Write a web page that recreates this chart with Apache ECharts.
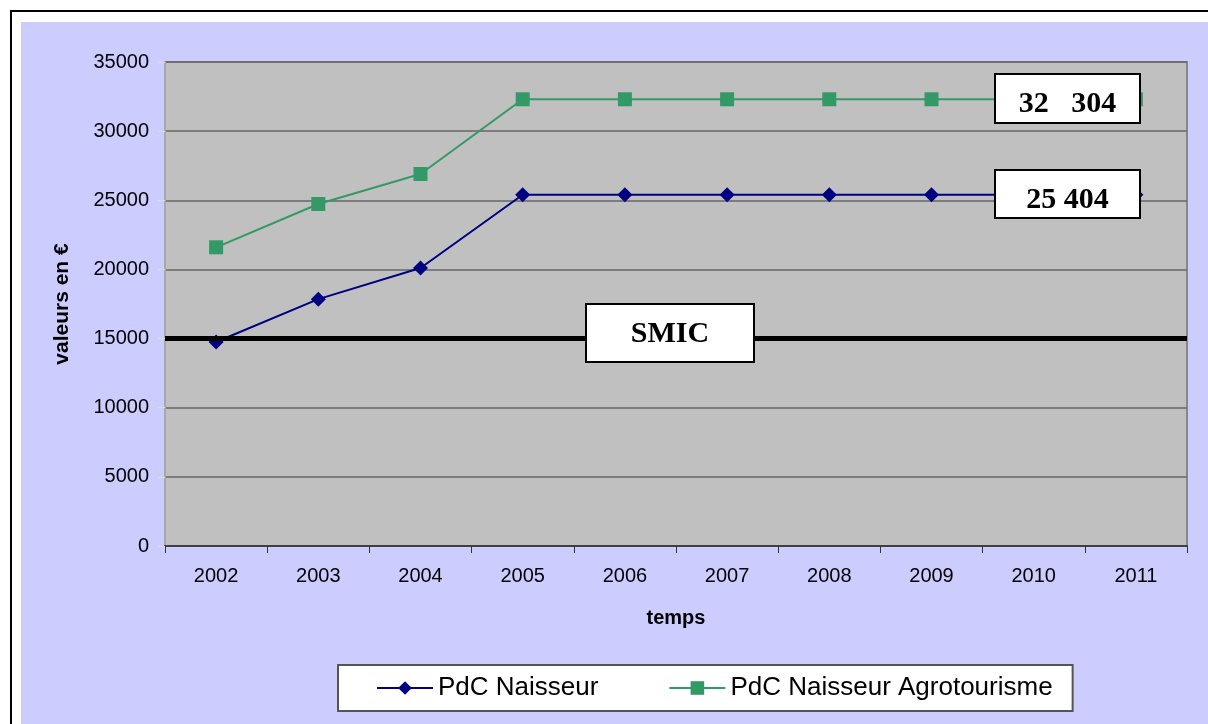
<!DOCTYPE html>
<html>
<head>
<meta charset="utf-8">
<script src="https://cdn.jsdelivr.net/npm/echarts@6/dist/echarts.min.js"></script>
<style>
  html, body { margin: 0; padding: 0; background: #fff; width: 1208px; height: 724px; overflow: hidden; }
  #frame { position: absolute; left: 10px; top: 10px; width: 1300px; height: 800px; border-left: 2px solid #000; border-top: 2px solid #000; }
  #fill { position: absolute; left: 21px; top: 22px; right: 0; bottom: 0; background: #ccccff; }
  #main { position: absolute; left: 0; top: 0; width: 1208px; height: 724px; }
</style>
</head>
<body>
<div id="frame"></div>
<div id="fill"></div>
<div id="main"></div>
<script>
// données
const years = ['2002', '2003', '2004', '2005', '2006', '2007', '2008', '2009', '2010', '2011']
const naisseur = [14750, 17850, 20100, 25404, 25404, 25404, 25404, 25404, 25404, 25404]
const agrotourisme = [21600, 24730, 26900, 32304, 32304, 32304, 32304, 32304, 32304, 32304]
const smic = 15000
const seriesNames = ['PdC Naisseur', 'PdC Naisseur Agrotourisme']
const boxLabels = ['32   304', '25 404', 'SMIC']

const chart = echarts.init(document.getElementById('main'))

// encadré blanc avec texte gras (annotations)
const box = (x, y, w, h, text, ty) => ({
  type: 'group',
  zlevel: 1,
  children: [
    {
      type: 'rect',
      z: 100,
      shape: { x: x, y: y, width: w, height: h },
      style: { fill: '#fff', stroke: '#000', lineWidth: 2 }
    },
    {
      type: 'text',
      z: 101,
      x: x + w / 2,
      y: ty,
      style: {
        text: text,
        font: 'bold 30px "Liberation Serif", "Times New Roman", serif',
        fill: '#000',
        align: 'center',
        verticalAlign: 'middle'
      }
    }
  ]
})

const option = {
  animation: false,
  backgroundColor: 'transparent',
  textStyle: { fontFamily: '"Liberation Sans", Arial, sans-serif' },
  grid: {
    left: 165,
    right: 21,
    top: 62,
    bottom: 178,
    show: true,
    backgroundColor: '#c0c0c0',
    borderColor: '#888',
    borderWidth: 2
  },
  legend: {
    left: 338,
    top: 665,
    data: seriesNames,
    backgroundColor: '#fff',
    borderColor: '#555',
    borderWidth: 2,
    padding: [10, 20, 10, 38],
    itemWidth: 56,
    itemHeight: 17,
    itemGap: 70,
    textStyle: { fontSize: 26, lineHeight: 26, color: '#000', fontFamily: '"Liberation Sans", Arial, sans-serif' }
  },
  xAxis: {
    type: 'category',
    data: years,
    boundaryGap: true,
    name: 'temps',
    nameLocation: 'middle',
    nameGap: 62,
    nameTextStyle: { fontSize: 20, fontWeight: 'bold', color: '#000' },
    axisLine: { lineStyle: { color: '#404040', width: 2 } },
    axisTick: { show: true, interval: 0, length: 7, lineStyle: { color: '#333' } },
    axisLabel: { fontSize: 20, color: '#000', margin: 20 },
    splitLine: { show: false }
  },
  yAxis: {
    type: 'value',
    min: 0,
    max: 35000,
    interval: 5000,
    name: 'valeurs en €',
    nameLocation: 'middle',
    nameGap: 92,
    nameTextStyle: { fontSize: 21, fontWeight: 'bold', color: '#000' },
    axisLine: { show: true, lineStyle: { color: '#a8a8a8', width: 2 } },
    axisTick: { show: true, length: 7, lineStyle: { color: '#ddd' } },
    axisLabel: { fontSize: 20, color: '#000', margin: 16, formatter: v => String(v) },
    splitLine: { show: true, lineStyle: { color: '#666', width: 1.5 } }
  },
  series: [
    {
      name: seriesNames[0],
      type: 'line',
      data: naisseur,
      symbol: 'diamond',
      symbolSize: 15,
      lineStyle: { color: '#000080', width: 2 },
      itemStyle: { color: '#000080' },
      markLine: {
        silent: true,
        symbol: ['none', 'none'],
        label: { show: false },
        lineStyle: { color: '#000', width: 5, type: 'solid' },
        data: [{ yAxis: smic }]
      },
      z: 3
    },
    {
      name: seriesNames[1],
      type: 'line',
      data: agrotourisme,
      symbol: 'rect',
      symbolSize: 14,
      lineStyle: { color: '#339966', width: 2 },
      itemStyle: { color: '#339966' },
      z: 2
    }
  ],
  graphic: [
    box(995, 74, 145, 49, boxLabels[0], 104),
    box(995, 170, 145, 48, boxLabels[1], 200),
    box(586, 304, 168, 58, boxLabels[2], 334)
  ]
}

chart.setOption(option)
</script>
</body>
</html>
